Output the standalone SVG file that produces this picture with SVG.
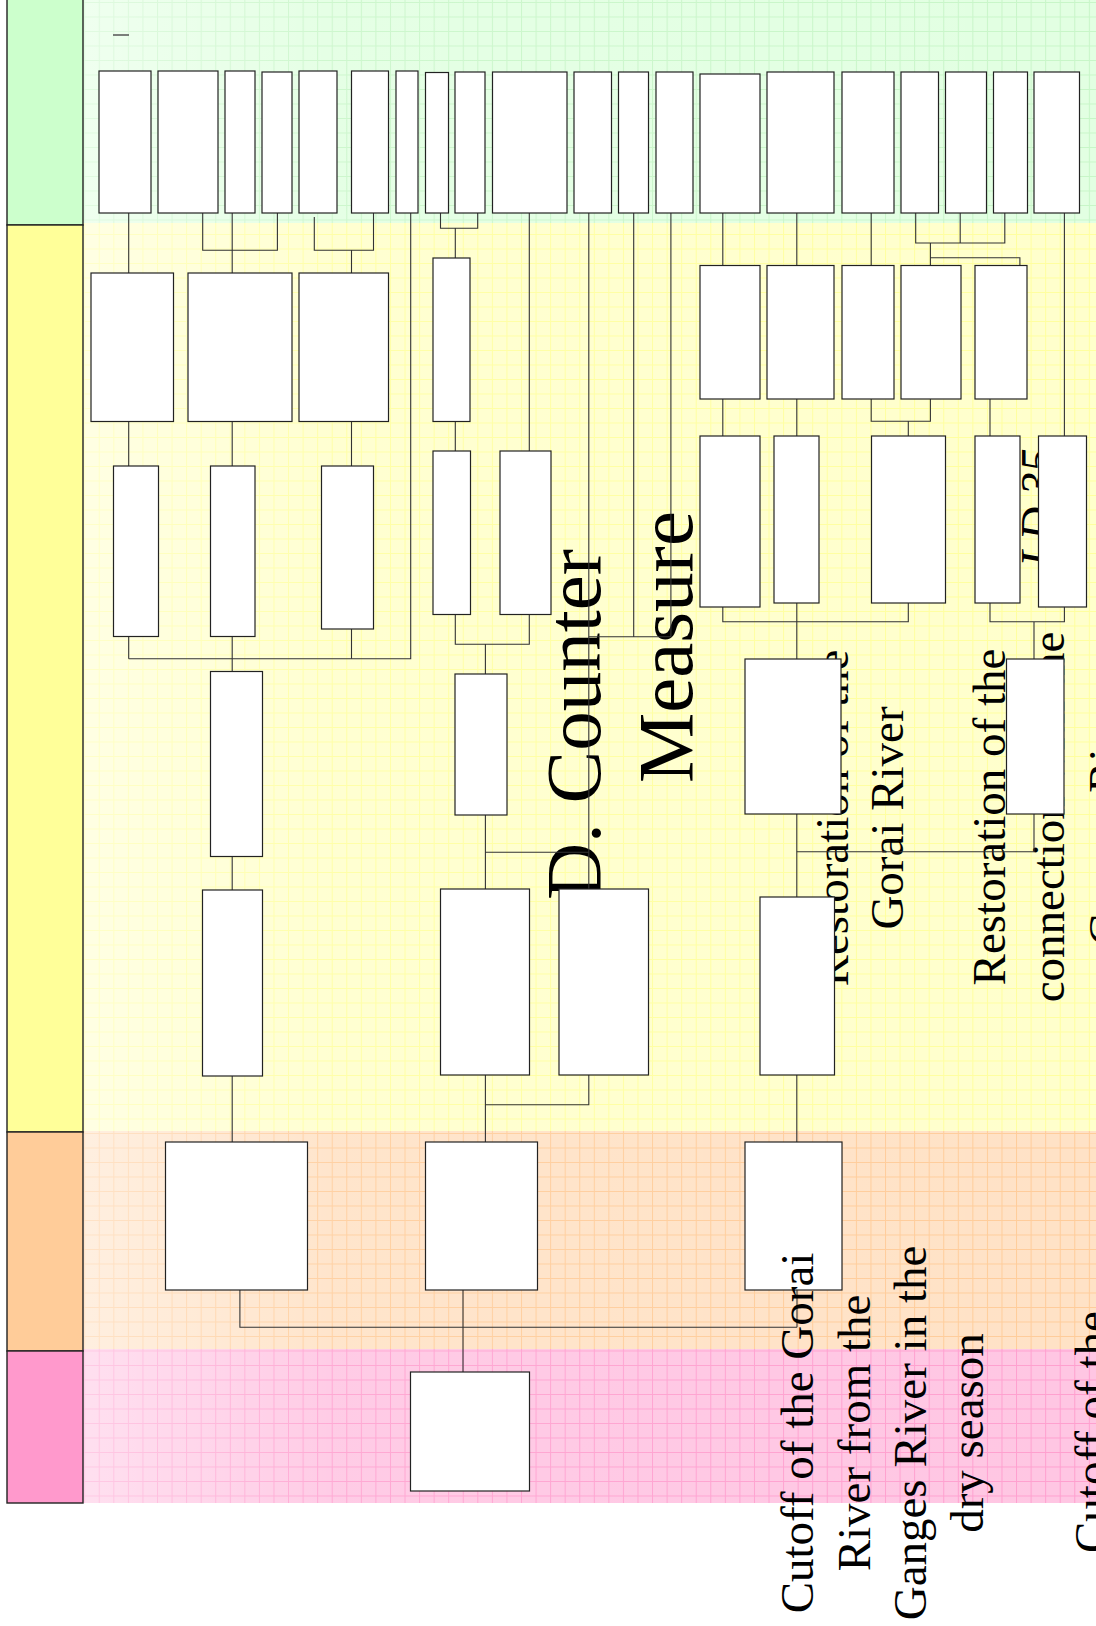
<svg xmlns="http://www.w3.org/2000/svg" width="1096" height="1626" viewBox="0 0 1096 1626">
<style>
.box{fill:#ffffff;stroke:#222222;stroke-width:1.2}
.ln{fill:none;stroke:#333333;stroke-width:1.1}
.lane{stroke:#222222;stroke-width:1.4}
.t{font-family:"Liberation Serif","Times New Roman",serif;font-size:47px;fill:#000000}
.big{font-family:"Liberation Serif","Times New Roman",serif;font-size:79px;fill:#000000}
</style>
<defs>
<pattern id="gG" width="14.56" height="14.5" patternUnits="userSpaceOnUse" x="84.2" y="2">
<rect width="14.56" height="14.5" fill="#E2FFE2"/>
<path d="M0.5 0V14.5M0 0.5H14.56" stroke="#C8F6C8" stroke-width="1" fill="none"/>
</pattern>
<pattern id="gY" width="14.56" height="14.5" patternUnits="userSpaceOnUse" x="84.2" y="2">
<rect width="14.56" height="14.5" fill="#FFFFCC"/>
<path d="M0.5 0V14.5M0 0.5H14.56" stroke="#FFFF9E" stroke-width="1" fill="none"/>
</pattern>
<pattern id="gO" width="14.56" height="14.5" patternUnits="userSpaceOnUse" x="84.2" y="2">
<rect width="14.56" height="14.5" fill="#FFE2C6"/>
<path d="M0.5 0V14.5M0 0.5H14.56" stroke="#FFCC99" stroke-width="1" fill="none"/>
</pattern>
<pattern id="gP" width="14.56" height="14.5" patternUnits="userSpaceOnUse" x="84.2" y="2">
<rect width="14.56" height="14.5" fill="#FFC6E3"/>
<path d="M0.5 0V14.5M0 0.5H14.56" stroke="#FF9FCF" stroke-width="1" fill="none"/>
</pattern>
<linearGradient id="fade" x1="0" y1="0" x2="1" y2="0">
<stop offset="0" stop-color="#ffffff" stop-opacity="0.45"/>
<stop offset="0.25" stop-color="#ffffff" stop-opacity="0.1"/>
<stop offset="1" stop-color="#ffffff" stop-opacity="0"/>
</linearGradient>
</defs>

<g id="background">
<rect x="83" y="0" width="1013" height="223" fill="url(#gG)"/>
<rect x="83" y="223" width="1013" height="908" fill="url(#gY)"/>
<rect x="83" y="1131" width="1013" height="218" fill="url(#gO)"/>
<rect x="83" y="1349" width="1013" height="154" fill="url(#gP)"/>
<rect x="83" y="0" width="1013" height="1503" fill="url(#fade)"/>
</g>

<g id="lanes">
<rect class="lane" x="7" y="-2" width="76" height="227" fill="#CCFFCC"/>
<rect class="lane" x="7" y="225" width="76" height="907" fill="#FFFF99"/>
<rect class="lane" x="7" y="1132" width="76" height="219" fill="#FFCC99"/>
<rect class="lane" x="7" y="1351" width="76" height="152" fill="#FF99CC"/>
</g>

<line x1="113" y1="35" x2="129" y2="35" stroke="#555555" stroke-width="1.5"/>

<g id="labels-under">
<text class="big" transform="translate(600,900) rotate(-90)">D. Counter</text>
<text class="big" transform="translate(692,783) rotate(-90)">Measure</text>
<text class="t" text-anchor="middle" transform="translate(848,818) rotate(-90)">Restoration of the</text>
<text class="t" text-anchor="middle" transform="translate(903,818) rotate(-90)">Gorai River</text>
<text class="t" text-anchor="middle" transform="translate(1005,817) rotate(-90)">Restoration of the</text>
<text class="t" text-anchor="middle" transform="translate(1064,817) rotate(-90)">connection with the</text>
<text class="t" text-anchor="middle" transform="translate(1121,817) rotate(-90)">Ganges River</text>
<text class="t" font-style="italic" transform="translate(1053,567) rotate(-90)">LD 35</text>
</g>

<g id="connectors" class="ln">
<path d="M128.7 213V273"/>
<path d="M202.7 213V250.3H277.4V213M232.2 213V273"/>
<path d="M314.3 217V250.3H373.5V213M351.5 250.3V273"/>
<path d="M410.7 213V658.7H128.7"/>
<path d="M440.5 213V228.3H477.7V213M455.3 228.3V258"/>
<path d="M529.3 213V451"/>
<path d="M128.7 421.5V466M232.2 421.5V466M351.5 421.5V466"/>
<path d="M128.7 636.5V658.7M232.2 636.5V671.5M351.5 629V658.7"/>
<path d="M455.3 421.5V451"/>
<path d="M455.3 614.5V644.3H529.3V614.5M485.4 644.3V674"/>
<path d="M232.2 856.5V890"/>
<path d="M485.4 815V889M485.4 852.3H588.8"/>
<path d="M588.8 213V889"/>
<path d="M633.7 213V636.7M670.9 213V636.7M588.8 636.7H670.9"/>
<path d="M232.2 1076V1142M485.4 1075V1142"/>
<path d="M485.4 1104.7H588.8V1075"/>
<path d="M239.9 1290V1327.3H797M797 1290V1327.3M463 1290V1372"/>
<path d="M722.8 213V265.5M722.8 399V436"/>
<path d="M796.8 213V265.5M796.8 399V436"/>
<path d="M871.2 213V265.5"/>
<path d="M915.7 213V243H1004.8V213M960.2 213V243M930.4 243V265.5M930.4 257.7H1019.9V265.5"/>
<path d="M1064.4 213V436"/>
<path d="M871.2 399V421.3H930.4V399M908.3 421.3V436"/>
<path d="M990 399V436"/>
<path d="M722.8 607V621.7H908.3V603M796.8 603V659"/>
<path d="M990 603V621.7H1064.4V607M1034 621.7V659M1034 814V851.7H796.8"/>
<path d="M796.8 814V897M796.8 1075V1142"/>
</g>

<g id="nodes">
<g id="t1"><rect class="box" x="99" y="71" width="52" height="142"/></g>
<g id="t2"><rect class="box" x="158" y="71" width="60" height="142"/></g>
<g id="t3"><rect class="box" x="225" y="71" width="30" height="142"/></g>
<g id="t4"><rect class="box" x="262" y="72" width="30" height="141"/></g>
<g id="t5"><rect class="box" x="299" y="71" width="38" height="142"/></g>
<g id="t6"><rect class="box" x="351.5" y="71" width="37" height="142"/></g>
<g id="t7"><rect class="box" x="396" y="71" width="22" height="142"/></g>
<g id="t8"><rect class="box" x="425.5" y="72.5" width="23" height="140.5"/></g>
<g id="t9"><rect class="box" x="455" y="72" width="30" height="141"/></g>
<g id="t10"><rect class="box" x="492.5" y="72" width="74.5" height="141"/></g>
<g id="t11"><rect class="box" x="574" y="72" width="37.5" height="141"/></g>
<g id="t12"><rect class="box" x="618.5" y="72" width="30" height="141"/></g>
<g id="t13"><rect class="box" x="656" y="72" width="37" height="141"/></g>
<g id="t14"><rect class="box" x="700" y="74" width="60" height="139"/></g>
<g id="t15"><rect class="box" x="767" y="72" width="67" height="141"/></g>
<g id="t16"><rect class="box" x="842" y="72" width="52" height="141"/></g>
<g id="t17"><rect class="box" x="901" y="72" width="37.5" height="141"/></g>
<g id="t18"><rect class="box" x="945.5" y="72" width="41" height="141"/></g>
<g id="t19"><rect class="box" x="993.5" y="72" width="34" height="141"/></g>
<g id="t20"><rect class="box" x="1034" y="72" width="45.5" height="141"/></g>

<g id="a1"><rect class="box" x="91" y="273" width="82.5" height="148.5"/></g>
<g id="a2"><rect class="box" x="188" y="273" width="104" height="148.5"/></g>
<g id="a3"><rect class="box" x="299" y="273" width="89.5" height="148.5"/></g>
<g id="b1"><rect class="box" x="433" y="258" width="37" height="163.5"/></g>
<g id="c1"><rect class="box" x="700" y="265.5" width="60" height="133.5"/></g>
<g id="c2"><rect class="box" x="767" y="265.5" width="67" height="133.5"/></g>
<g id="c3"><rect class="box" x="842" y="265.5" width="52" height="133.5"/></g>
<g id="c4"><rect class="box" x="901" y="265.5" width="60" height="133.5"/></g>
<g id="c5"><rect class="box" x="975" y="265.5" width="52" height="133.5"/></g>

<g id="e1"><rect class="box" x="113.5" y="466" width="45" height="170.5"/></g>
<g id="e2"><rect class="box" x="210.5" y="466" width="44.5" height="170.5"/></g>
<g id="e3"><rect class="box" x="321.5" y="466" width="52" height="163"/></g>
<g id="d1"><rect class="box" x="433" y="451" width="37.5" height="163.5"/></g>
<g id="d2"><rect class="box" x="500" y="451" width="51" height="163.5"/></g>
<g id="k1"><rect class="box" x="700" y="436" width="60" height="171"/></g>
<g id="k2"><rect class="box" x="774" y="436" width="45" height="167"/></g>
<g id="k3"><rect class="box" x="871.5" y="436" width="74" height="167"/></g>
<g id="k4"><rect class="box" x="975" y="436" width="45" height="167"/></g>
<g id="k5"><rect class="box" x="1038.5" y="436" width="48" height="171"/></g>

<g id="f1"><rect class="box" x="210.5" y="671.5" width="52" height="185"/></g>
<g id="g1"><rect class="box" x="455" y="674" width="52" height="141"/></g>
<g id="l1"><rect class="box" x="745" y="659" width="96" height="155"/></g>
<g id="l2"><rect class="box" x="1006.5" y="659" width="57.5" height="155"/></g>

<g id="h1"><rect class="box" x="202.5" y="890" width="60" height="186"/></g>
<g id="h2"><rect class="box" x="440.5" y="889" width="89" height="186"/></g>
<g id="h3"><rect class="box" x="559" y="889" width="89.5" height="186"/></g>
<g id="m1"><rect class="box" x="760" y="897" width="74.5" height="178"/></g>

<g id="i1"><rect class="box" x="165.5" y="1142" width="142" height="148"/></g>
<g id="i2"><rect class="box" x="425.5" y="1142" width="112" height="148"/></g>
<g id="i3"><rect class="box" x="745" y="1142" width="97" height="148"/></g>

<g id="j1"><rect class="box" x="410.5" y="1372" width="119" height="119"/></g>
</g>

<g id="labels-over">
<text class="t" text-anchor="middle" transform="translate(812.6,1433) rotate(-90)">Cutoff of the Gorai</text>
<text class="t" text-anchor="middle" transform="translate(869.5,1433) rotate(-90)">River from the</text>
<text class="t" text-anchor="middle" transform="translate(926.4,1433) rotate(-90)">Ganges River in the</text>
<text class="t" text-anchor="middle" transform="translate(983.3,1433) rotate(-90)">dry season</text>
<text class="t" transform="translate(1107,1553) rotate(-90)">Cutoff of the</text>
</g>
</svg>
